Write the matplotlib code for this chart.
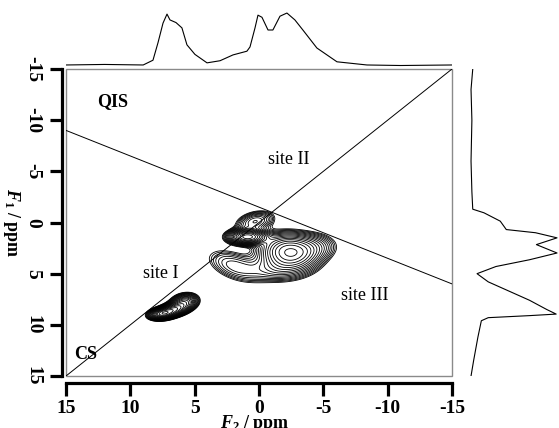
import numpy as np
import matplotlib
matplotlib.use("Agg")
import matplotlib.pyplot as plt
from matplotlib.patches import Rectangle

plt.rcParams['font.family'] = ['Liberation Serif', 'DejaVu Serif']
plt.rcParams['mathtext.fontset'] = 'custom'
plt.rcParams['mathtext.rm'] = 'Liberation Serif:bold'
plt.rcParams['mathtext.it'] = 'Liberation Serif:italic:bold'

# --- 2D peaks (ppm) ---
peak_f2   = [7.5, 6.6, 5.8, 0.9, 0.3, -2.4, 2.0, -1.3, -4.4]
peak_f1   = [8.9, 8.5, 7.8, 1.4, -0.1, 2.9, 4.2, 4.6, 2.3]
peak_amp  = [1.0, 0.7, 0.45, 0.9, 0.22, 0.6, 0.14, 0.14, 0.12]
peak_w2   = [0.55, 0.6, 0.6, 0.8, 0.9, 1.3, 1.4, 1.5, 1.1]
peak_w1   = [0.30, 0.35, 0.45, 0.4, 0.55, 1.0, 0.8, 0.8, 0.8]
peak_tilt = [10, 15, 20, 0, 20, -10, -30, 0, 0]   # deg

# --- projections ---
top_f2  = [15.0, 12.0, 9.0, 8.24, 7.85, 7.46, 7.15, 6.92, 6.45, 5.99, 5.6, 4.98,
           4.04, 3.03, 2.02, 0.94, 0.70, 0.31, 0.08, -0.23, -0.70, -1.08, -1.63,
           -2.17, -2.79, -3.41, -4.5, -6.06, -8.39, -11.0, -15.0]
top_int = [0.0, 0.01, 0.0, 0.09, 0.42, 0.79, 0.96, 0.85, 0.80, 0.70, 0.38, 0.20,
           0.04, 0.08, 0.19, 0.26, 0.34, 0.70, 0.94, 0.90, 0.66, 0.66, 0.92,
           0.98, 0.85, 0.66, 0.32, 0.06, 0.0, -0.01, 0.0]

right_f1  = [-15.0, -13.0, -10.0, -6.0, -3.0, -1.3, -0.95, -0.13, 0.69, 1.0, 1.5,
             2.16, 2.98, 3.64, 4.3, 5.0, 5.8, 6.7, 7.6, 8.5, 8.95, 9.1, 9.3,
             9.6, 11.2, 13.5, 15.0]
right_int = [0.02, 0.0, 0.01, 0.0, 0.01, 0.02, 0.15, 0.34, 0.41, 0.75, 1.0,
             0.76, 1.0, 0.68, 0.29, 0.07, 0.20, 0.44, 0.68, 0.88, 0.99, 0.68, 0.20,
             0.12, 0.08, 0.03, 0.0]

# reference lines (F2, F1 end points)
cs_line  = ([15, -15], [15, -15])
qis_line = ([15, -15], [-9.0, 6.0])

ticks = [15, 10, 5, 0, -5, -10, -15]

# build 2D map
f2 = np.linspace(15, -15, 500)
f1 = np.linspace(-15, 15, 500)
X, Y = np.meshgrid(f2, f1)
Z = np.zeros_like(X)
for a, c2, c1, w2, w1, t in zip(peak_amp, peak_f2, peak_f1, peak_w2, peak_w1, peak_tilt):
    th = np.deg2rad(t)
    u = (X - c2) * np.cos(th) + (Y - c1) * np.sin(th)
    v = -(X - c2) * np.sin(th) + (Y - c1) * np.cos(th)
    Z += a * np.exp(-0.5 * ((u / w2) ** 2 + (v / w1) ** 2))

fig = plt.figure(figsize=(5.59, 4.28), dpi=100)
W, H = 559, 428
ax = fig.add_axes([66 / W, (H - 376) / H, 386 / W, 307 / H])

levels = Z.max() * np.geomspace(0.04, 0.95, 20)
ax.contour(X, Y, Z, levels=levels, colors='black', linewidths=0.6)
ax.plot(*cs_line, color='black', lw=0.7)
ax.plot(*qis_line, color='black', lw=0.7)

ax.set_xlim(15, -15)
ax.set_ylim(15, -15)
ax.set_xticks(ticks)
ax.set_yticks(ticks)
ax.set_xticklabels([str(t) for t in ticks])
ax.set_yticklabels([str(t) for t in ticks])

for s in ['top', 'right']:
    ax.spines[s].set_visible(False)
ax.spines['left'].set_position(('outward', 3))
ax.spines['bottom'].set_position(('outward', 5))
for s in ['left', 'bottom']:
    ax.spines[s].set_linewidth(2.3)
ax.tick_params(direction='out', length=9, width=2.3, pad=3, labelsize=14)
ax.tick_params(axis='y', pad=6)
plt.setp(ax.get_xticklabels(), fontweight='bold')
plt.setp(ax.get_yticklabels(), fontweight='bold', rotation=-90, va='center', ha='right')
ax.add_patch(Rectangle((0, 0), 1, 1, transform=ax.transAxes, fill=False,
                       edgecolor='#8a8a8a', lw=1.0, clip_on=False))

ax.set_xlabel(r'$F_2$ / ppm', fontsize=13, fontweight='bold', va='top')
ax.xaxis.set_label_coords(0.49, -0.12)
ax.set_ylabel(r'$F_1$ / ppm', fontsize=13, fontweight='bold', rotation=-90, va='center')
ax.yaxis.set_label_coords(-0.142, 0.5)

ax.text(11.4, -11.8, 'QIS', fontsize=13, fontweight='bold', ha='center', va='center')
ax.text(13.5, 12.9, 'CS', fontsize=13, fontweight='bold', ha='center', va='center')
ax.text(-2.3, -6.2, 'site II', fontsize=13, ha='center', va='center')
ax.text(7.6, 5.0, 'site I', fontsize=13, ha='center', va='center')
ax.text(-8.2, 7.1, 'site III', fontsize=13, ha='center', va='center')

# top projection
axt = fig.add_axes([66 / W, (H - 68) / H, 386 / W, 60 / H])
axt.plot(top_f2, top_int, color='black', lw=0.8)
axt.set_xlim(15, -15)
axt.set_ylim(-0.057, 1.075)
axt.axis('off')

# right projection
axr = fig.add_axes([462 / W, (H - 376) / H, 97 / W, 307 / H])
axr.plot(right_int, right_f1, color='black', lw=0.8)
axr.set_ylim(15, -15)
axr.set_xlim(-0.105, 1.023)
axr.axis('off')

fig.savefig('out.png', dpi=100)
